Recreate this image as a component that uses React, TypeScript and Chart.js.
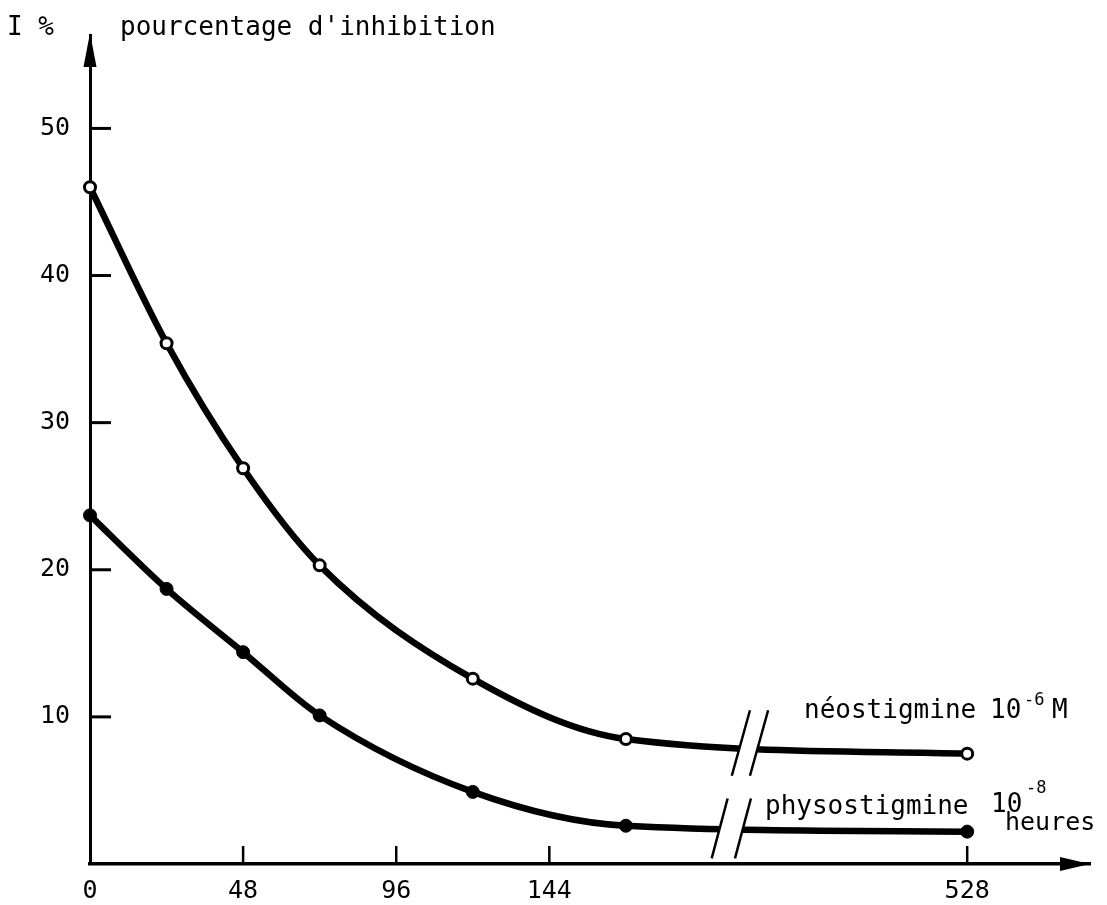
import React, { useEffect, useRef } from 'react';
import { Chart, registerables } from 'chart.js';

Chart.register(...registerables);

// ---- data ----
const hours = [0, 24, 48, 72, 120, 168, 528];
const neostigmine = [46.0, 35.4, 26.9, 20.3, 12.6, 8.5, 7.5];
const physostigmine = [23.7, 18.7, 14.4, 10.1, 4.9, 2.6, 2.2];
const xTickHours = [0, 48, 96, 144, 528];
const xTickLabels = ['0', '48', '96', '144', '528'];
const yTickValues = [10, 20, 30, 40, 50];

// broken x axis: hours after 168 are shifted left
const BREAK_AFTER = 168;
const HIDDEN_HOURS = 253;
const toAxis = (h: number) => (h > BREAK_AFTER ? h - HIDDEN_HOURS : h);

const FONT = '"DejaVu Sans Mono", monospace';

// break marks (axis units): slash from (x, y0) to (x + slant, y1), second slash shifted by gap
const breakMarks = [
  { x: 201.2, y0: 6.0, y1: 10.45, slant: 5.7, gap: 5.7 },
  { x: 194.9, y0: 0.38, y1: 4.45, slant: 5.0, gap: 7.3 },
];

const decorPlugin = {
  id: 'decor',
  afterDatasetsDraw(chart: any) {
    const { ctx, scales } = chart;
    const xs = scales.x;
    const ys = scales.y;
    ctx.save();
    breakMarks.forEach((b) => {
      const ax = xs.getPixelForValue(b.x);
      const ay = ys.getPixelForValue(b.y0);
      const bx = xs.getPixelForValue(b.x + b.slant);
      const by = ys.getPixelForValue(b.y1);
      const g = xs.getPixelForValue(b.x + b.gap) - ax;
      ctx.fillStyle = '#fff';
      ctx.beginPath();
      ctx.moveTo(ax, ay);
      ctx.lineTo(bx, by);
      ctx.lineTo(bx + g, by);
      ctx.lineTo(ax + g, ay);
      ctx.closePath();
      ctx.fill();
      ctx.strokeStyle = '#000';
      ctx.lineWidth = 2.5;
      ctx.beginPath();
      ctx.moveTo(ax, ay);
      ctx.lineTo(bx, by);
      ctx.moveTo(ax + g, ay);
      ctx.lineTo(bx + g, by);
      ctx.stroke();
    });
    ctx.restore();
  },
  afterDraw(chart: any) {
    const { ctx, chartArea, scales } = chart;
    const xs = scales.x;
    const ys = scales.y;
    const { left, right, top, bottom } = chartArea;
    ctx.save();
    ctx.fillStyle = '#000';
    ctx.strokeStyle = '#000';
    // y axis arrow
    ctx.beginPath();
    ctx.moveTo(left, top - 2);
    ctx.lineTo(left - 6.5, top + 32);
    ctx.lineTo(left + 6.5, top + 32);
    ctx.closePath();
    ctx.fill();
    // x axis arrow
    ctx.beginPath();
    ctx.moveTo(right, bottom);
    ctx.lineTo(right - 30, bottom - 7);
    ctx.lineTo(right - 30, bottom + 7);
    ctx.closePath();
    ctx.fill();
    // y tick marks pointing inward
    ctx.lineWidth = 3;
    yTickValues.forEach((v) => {
      const y = ys.getPixelForValue(v);
      ctx.beginPath();
      ctx.moveTo(left, y);
      ctx.lineTo(left + 21, y);
      ctx.stroke();
    });
    // x tick marks pointing upward
    ctx.lineWidth = 2.5;
    xTickHours.forEach((h) => {
      if (h === 0) return;
      const x = xs.getPixelForValue(toAxis(h));
      ctx.beginPath();
      ctx.moveTo(x, bottom);
      ctx.lineTo(x, bottom - 18);
      ctx.stroke();
    });
    // texts
    ctx.textBaseline = 'alphabetic';
    ctx.textAlign = 'left';
    ctx.font = `26px ${FONT}`;
    ctx.fillText('I %', 7, 35);
    ctx.fillText("pourcentage d'inhibition", 120, 35);
    ctx.fillText('néostigmine', 804, 718);
    ctx.fillText('10', 990, 718);
    ctx.fillText('M', 1052, 718);
    ctx.fillText('physostigmine', 765, 814);
    ctx.fillText('10', 991, 812);
    ctx.font = `25px ${FONT}`;
    ctx.fillText('heures', 1005, 830);
    ctx.font = `17px ${FONT}`;
    ctx.fillText('-6', 1024, 705);
    ctx.fillText('-8', 1026, 793);
    ctx.restore();
  },
};

export default function App() {
  const ref = useRef<HTMLCanvasElement | null>(null);

  useEffect(() => {
    if (!ref.current) return;
    Chart.defaults.font.family = FONT;
    Chart.defaults.color = '#000';
    const chart = new Chart(ref.current, {
      type: 'line',
      data: {
        datasets: [
          {
            label: 'néostigmine 10⁻⁶M',
            data: hours.map((h, i) => ({ x: toAxis(h), y: neostigmine[i] })),
            borderColor: '#000',
            borderWidth: 6.5,
            cubicInterpolationMode: 'monotone',
            pointRadius: 5.5,
            pointBorderWidth: 3,
            pointBackgroundColor: '#fff',
            pointBorderColor: '#000',
            clip: false,
          },
          {
            label: 'physostigmine 10⁻⁸',
            data: hours.map((h, i) => ({ x: toAxis(h), y: physostigmine[i] })),
            borderColor: '#000',
            borderWidth: 6.5,
            cubicInterpolationMode: 'monotone',
            pointRadius: 6.5,
            pointBorderWidth: 1,
            pointBackgroundColor: '#000',
            pointBorderColor: '#000',
            clip: false,
          },
        ],
      },
      options: {
        animation: false,
        responsive: false,
        devicePixelRatio: 1,
        layout: { padding: { top: 12, right: 17, left: 0, bottom: 0 } },
        plugins: {
          legend: { display: false },
          tooltip: { enabled: false },
        },
        scales: {
          x: {
            type: 'linear',
            min: 0,
            max: 313.5,
            grid: { display: true, drawOnChartArea: false, drawTicks: false },
            border: { display: true, color: '#000', width: 3.5 },
            afterBuildTicks: (scale: any) => {
              scale.ticks = xTickHours.map((h) => ({ value: toAxis(h) }));
            },
            afterFit: (scale: any) => {
              scale.height = 41;
            },
            ticks: {
              padding: 12,
              maxRotation: 0,
              autoSkip: false,
              font: { size: 25, family: FONT },
              color: '#000',
              callback: (_v: any, i: number) => xTickLabels[i],
            },
          },
          y: {
            type: 'linear',
            min: 0,
            max: 56.35,
            grid: { display: true, drawOnChartArea: false, drawTicks: false },
            border: { display: true, color: '#000', width: 3 },
            afterBuildTicks: (scale: any) => {
              scale.ticks = yTickValues.map((v) => ({ value: v }));
            },
            afterFit: (scale: any) => {
              scale.width = 90;
            },
            ticks: {
              padding: 20,
              font: { size: 25, family: FONT },
              color: '#000',
            },
          },
        },
      },
      plugins: [decorPlugin],
    } as any);
    return () => chart.destroy();
  }, []);

  return (
    <div style={{ position: 'fixed', left: 0, top: 0, width: 1107, height: 905, background: '#fff' }}>
      <canvas ref={ref} width={1107} height={905} />
    </div>
  );
}
